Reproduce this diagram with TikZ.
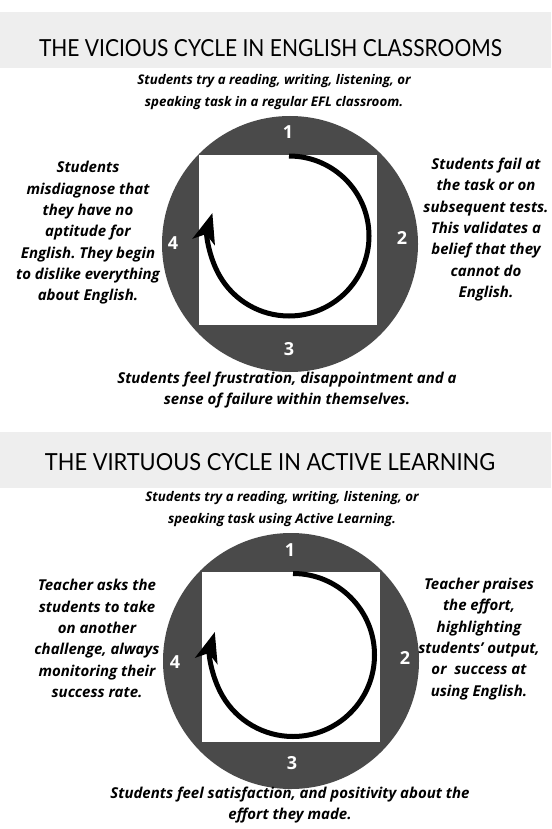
\documentclass[tikz,border=0pt]{standalone}
\usepackage{fontspec}
\setmainfont{Open Sans}
\newfontfamily\titlefont{Lato}
\newfontfamily\digitfont{Open Sans}
\usetikzlibrary{arrows.meta}
\definecolor{ringgray}{gray}{0.29}
\definecolor{bandgray}{gray}{0.935}
\frenchspacing

\begin{document}
\begin{tikzpicture}[x=1pt,y=1pt,
  ring/.style={circle, fill=ringgray, draw=none, minimum size=256pt, inner sep=0pt},
  panel/.style={rectangle, fill=white, draw=none, inner sep=0pt},
  cyclearrow/.style={line width=5pt, -{Stealth[length=30pt,width=23pt,inset=8pt]}},
  stagenum/.style={text=white, font=\digitfont\bfseries\fontsize{18}{18}\selectfont, inner sep=0pt},
  heading/.style={font=\titlefont\fontsize{23.5}{26}\selectfont, inner sep=0pt},
  lead/.style={align=center, font=\bfseries\itshape\fontsize{13.3}{22}\selectfont, inner sep=0pt},
  caption/.style={align=center, font=\bfseries\itshape\fontsize{15}{21.3}\selectfont, inner sep=0pt},
]
\useasboundingbox (0,0) rectangle (551,-829);
\fill[white] (0,0) rectangle (551,-829);
\fill[bandgray] (0,-12) rectangle (551,-68);
\fill[bandgray] (0,-432) rectangle (551,-488);

% ---------- vicious cycle ----------
\node[heading] (title1) at (270.5,-48) {\scalebox{0.893}[1]{THE VICIOUS CYCLE IN ENGLISH CLASSROOMS}};
\node[lead] (top1) at (274,-92) {Students try a reading, writing, listening, or\\speaking task in a regular EFL classroom.};

\node[ring] (ring1) at (290,-244) {};
\node[panel, minimum width=178pt, minimum height=170pt] (sq1) at (288,-240) {};
\coordinate (s1) at (289,-156);
\draw[cyclearrow] (s1) arc[start angle=90, end angle=-196.7, radius=80];

\node[stagenum] (n1a) at (288,-132) {1};
\node[stagenum] (n1b) at (402,-238) {2};
\node[stagenum] (n1c) at (289,-349) {3};
\node[stagenum] (n1d) at (173,-243) {4};

\node[caption] (left1) at (88,-233) {Students\\misdiagnose that\\they have no\\aptitude for\\English. They begin\\to dislike everything\\about English.};
\node[caption] (right1) at (486,-229.5) {Students fail at\\the task or on\\subsequent tests.\\This validates a\\belief that they\\cannot do\\English.};
\node[caption] (bot1) at (287,-390) {Students feel frustration, disappointment and a\\sense of failure within themselves.};

% ---------- virtuous cycle ----------
\node[heading] (title2) at (270,-462) {\scalebox{0.929}[1]{THE VIRTUOUS CYCLE IN ACTIVE LEARNING}};
\node[lead] (top2) at (282,-509) {Students try a reading, writing, listening, or\\speaking task using Active Learning.};

\node[ring] (ring2) at (291,-661) {};
\node[panel, minimum width=178pt, minimum height=170pt] (sq2) at (290.85,-657) {};
\coordinate (s2) at (293,-573.5);
\draw[cyclearrow] (s2) arc[start angle=90, end angle=-196.4, radius=81.5];

\node[stagenum] (n2a) at (290,-550) {1};
\node[stagenum] (n2b) at (405,-658) {2};
\node[stagenum] (n2c) at (292,-763) {3};
\node[stagenum] (n2d) at (175,-662) {4};

\node[caption] (left2) at (97,-638.5) {Teacher asks the\\students to take\\on another\\challenge, always\\monitoring their\\success rate.};
\node[caption] (right2) at (479,-639) {Teacher praises\\the effort,\\highlighting\\students’ output,\\or~ success at\\using English.};
\node[caption] (bot2) at (290,-805) {Students feel satisfaction, and positivity about the\\effort they made.};
\end{tikzpicture}
\end{document}
